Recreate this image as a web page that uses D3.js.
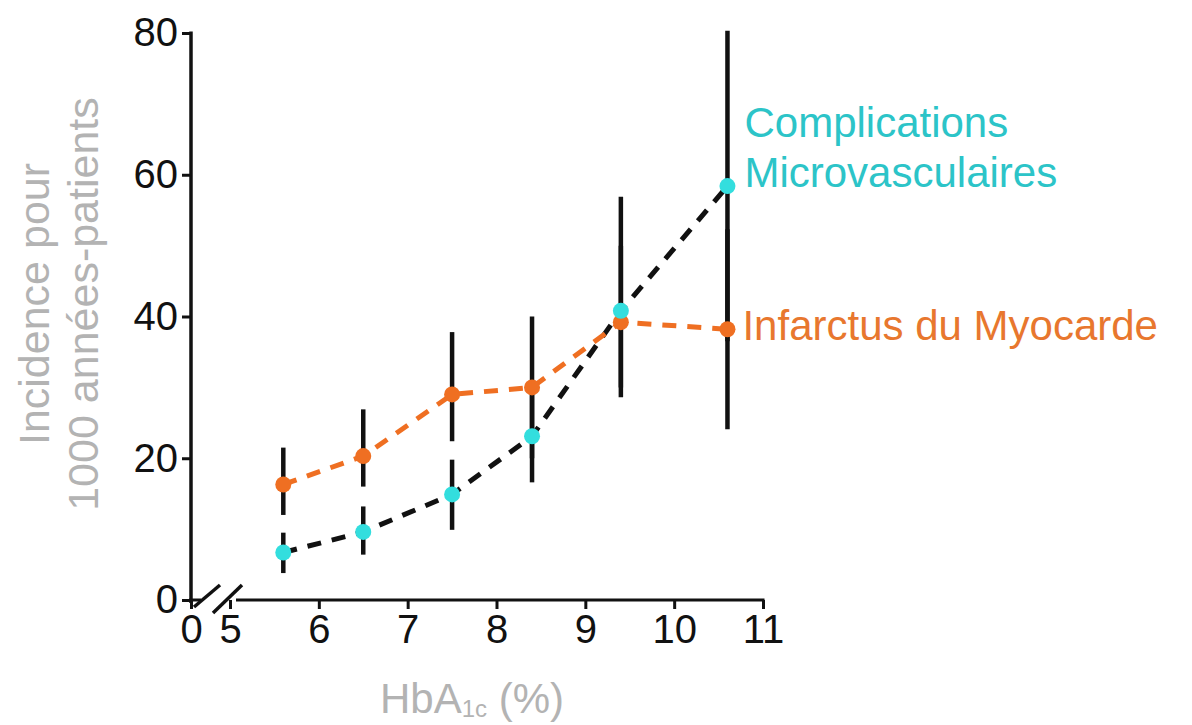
<!DOCTYPE html>
<html>
<head>
<meta charset="utf-8">
<script src="https://cdn.jsdelivr.net/npm/d3@7/dist/d3.min.js"></script>
<style>
  html, body { margin: 0; padding: 0; background: #fff; }
  svg { display: block; }
  text { font-family: "Liberation Sans", Arial, Helvetica, sans-serif; }
</style>
</head>
<body>
<svg id="chart" width="1192" height="725"></svg>
<script>
// ---- data ----
const hba1c = [5.6, 6.5, 7.5, 8.4, 9.4, 10.6];
const microValues = [6.7, 9.6, 14.9, 23.1, 40.8, 58.4];
const microLow    = [3.8, 6.4, 9.9, 16.6, 30.0, 36.5];
const microHigh   = [9.5, 13.2, 19.8, 29.5, 56.9, 80.3];
const miValues    = [16.3, 20.3, 29.0, 30.0, 39.2, 38.2];
const miLow       = [12.0, 16.0, 22.4, 20.0, 28.6, 24.1];
const miHigh      = [21.5, 26.9, 37.8, 40.0, 50.0, 52.3];
const xTicks = [0, 5, 6, 7, 8, 9, 10, 11];
const yTicks = [0, 20, 40, 60, 80];
const microLabel = ["Complications", "Microvasculaires"];
const miLabel = "Infarctus du Myocarde";
const yTitle = ["Incidence pour", "1000 années-patients"];

// ---- setup ----
const svg = d3.select("#chart");
const x = d3.scaleLinear().domain([0, 5, 11]).range([191, 230, 763]);
const y = d3.scaleLinear().domain([0, 80]).range([600, 33]);

const cyan = "#33dede";
const cyanText = "#2cc4c8";
const orange = "#ef6f22";
const orangeText = "#e8772e";
const gray = "#b3b3b3";

const micro = hba1c.map((v, i) => ({x: v, y: microValues[i], lo: microLow[i], hi: microHigh[i]}));
const mi = hba1c.map((v, i) => ({x: v, y: miValues[i], lo: miLow[i], hi: miHigh[i]}));

// ---- axes ----
const yAxis = d3.axisLeft(y).tickValues(yTicks).tickSize(9).tickPadding(4).tickSizeOuter(0);
const gy = svg.append("g").attr("transform", `translate(${x(0)},0)`).call(yAxis);
gy.select(".domain").remove();
gy.selectAll(".tick line").attr("stroke", "#111").attr("stroke-width", 3);
gy.selectAll(".tick text").attr("font-size", 40).attr("fill", "#111")
  .style("font-family", "'Liberation Sans', Arial, sans-serif");
svg.append("line").attr("x1", x(0)).attr("x2", x(0)).attr("y1", y(80) - 1.5).attr("y2", y(0) + 3)
  .attr("stroke", "#111").attr("stroke-width", 3.5);

const xAxis = d3.axisBottom(x).tickValues(xTicks).tickSize(9).tickPadding(6).tickSizeOuter(0);
const gx = svg.append("g").attr("transform", `translate(0,${y(0)})`).call(xAxis);
gx.select(".domain").remove();
gx.selectAll(".tick line").attr("stroke", "#111").attr("stroke-width", 3);
gx.selectAll(".tick text").attr("font-size", 40).attr("fill", "#111")
  .style("font-family", "'Liberation Sans', Arial, sans-serif");

// x axis line with break
const y0 = y(0);
svg.append("line").attr("x1", x(0) - 2).attr("x2", x(0) + 10).attr("y1", y0).attr("y2", y0)
  .attr("stroke", "#111").attr("stroke-width", 3);
svg.append("line").attr("x1", x(5) + 6).attr("x2", x(11) + 1.5).attr("y1", y0).attr("y2", y0)
  .attr("stroke", "#111").attr("stroke-width", 3);
[[194, 607, 220, 585], [213, 613, 242, 585]].forEach(s => {
  svg.append("line").attr("x1", s[0]).attr("y1", s[1]).attr("x2", s[2]).attr("y2", s[3])
    .attr("stroke", "#111").attr("stroke-width", 3.5);
});

// ---- error bars ----
const bars = svg.append("g");
[micro, mi].forEach(series => {
  bars.selectAll(null).data(series).enter().append("line")
    .attr("x1", d => x(d.x)).attr("x2", d => x(d.x))
    .attr("y1", d => y(d.lo)).attr("y2", d => y(d.hi))
    .attr("stroke", "#111").attr("stroke-width", 4.5);
});

// ---- lines ----
const line = d3.line().x(d => x(d.x)).y(d => y(d.y));
svg.append("path").datum(micro).attr("d", line).attr("fill", "none")
  .attr("stroke", "#111").attr("stroke-width", 5).attr("stroke-dasharray", "14,11");
svg.append("path").datum(mi).attr("d", line).attr("fill", "none")
  .attr("stroke", orange).attr("stroke-width", 5).attr("stroke-dasharray", "14,11");

// ---- points ----
svg.selectAll(null).data(mi).enter().append("circle")
  .attr("cx", d => x(d.x)).attr("cy", d => y(d.y)).attr("r", 8).attr("fill", orange);
svg.selectAll(null).data(micro).enter().append("circle")
  .attr("cx", d => x(d.x)).attr("cy", d => y(d.y)).attr("r", 8).attr("fill", cyan);

// ---- series labels ----
const lastMicro = micro[micro.length - 1];
const lastMi = mi[mi.length - 1];
svg.append("text").attr("x", x(lastMicro.x) + 17).attr("y", 137)
  .attr("font-size", 42).attr("fill", cyanText).text(microLabel[0]);
svg.append("text").attr("x", x(lastMicro.x) + 17).attr("y", 187)
  .attr("font-size", 42).attr("fill", cyanText).text(microLabel[1]);
svg.append("text").attr("x", x(lastMi.x) + 15).attr("y", y(lastMi.y) + 11)
  .attr("font-size", 42).attr("fill", orangeText).text(miLabel);

// ---- axis titles ----
const yt = svg.append("g").attr("transform", "translate(0,304) rotate(-90)");
yt.append("text").attr("x", 0).attr("y", 49).attr("text-anchor", "middle")
  .attr("font-size", 43).attr("fill", gray).text(yTitle[0]);
yt.append("text").attr("x", 0).attr("y", 98).attr("text-anchor", "middle")
  .attr("font-size", 43).attr("fill", gray).text(yTitle[1]);

const xt = svg.append("text").attr("x", 472).attr("y", 713).attr("text-anchor", "middle")
  .attr("font-size", 42).attr("fill", gray);
xt.append("tspan").text("HbA");
xt.append("tspan").attr("font-size", 24).attr("dy", 4).text("1c");
xt.append("tspan").attr("dy", -4).text(" (%)");
</script>
</body>
</html>
